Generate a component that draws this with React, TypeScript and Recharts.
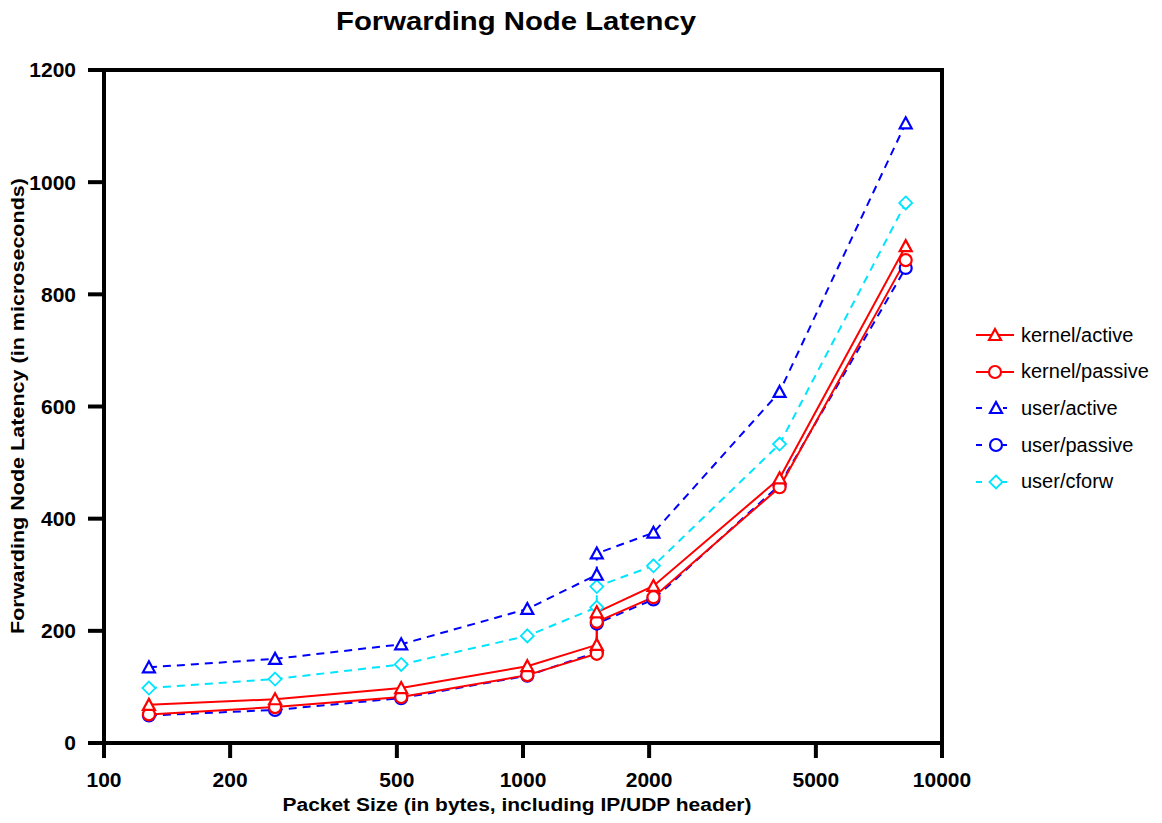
import { LineChart, Line, XAxis, YAxis, Legend, ReferenceArea, Label } from 'recharts';

const packetSizes = [128, 256, 512, 1024, 1500, 1500, 2048, 4096, 8192];
const kernelActive = [68, 78, 98, 137, 175, 233, 280, 472, 886];
const kernelPassive = [51, 64, 82, 121, 159, 216, 260, 456, 861];
const userActive = [135, 150, 176, 239, 300, 338, 375, 626, 1105];
const userPassive = [49, 59, 80, 120, 162, 213, 256, 460, 847];
const userCforw = [98, 114, 140, 191, 242, 279, 316, 533, 963];

const xTicks = [100, 200, 500, 1000, 2000, 5000, 10000];
const yTicks = [0, 200, 400, 600, 800, 1000, 1200];

const font = '"Liberation Sans", Arial, Helvetica, sans-serif';

type Shape = 'triangle' | 'circle' | 'diamond';

// legend order
const series: { key: string; name: string; color: string; dashed: boolean; shape: Shape }[] = [
  { key: 'kernelActive', name: 'kernel/active', color: '#ff0000', dashed: false, shape: 'triangle' },
  { key: 'kernelPassive', name: 'kernel/passive', color: '#ff0000', dashed: false, shape: 'circle' },
  { key: 'userActive', name: 'user/active', color: '#0000ff', dashed: true, shape: 'triangle' },
  { key: 'userPassive', name: 'user/passive', color: '#0000ff', dashed: true, shape: 'circle' },
  { key: 'userCforw', name: 'user/cforw', color: '#00e5ff', dashed: true, shape: 'diamond' },
];

const data = packetSizes.map((size, i) => ({
  size,
  kernelActive: kernelActive[i],
  kernelPassive: kernelPassive[i],
  userActive: userActive[i],
  userPassive: userPassive[i],
  userCforw: userCforw[i],
}));

function Marker({ cx, cy, shape, color }: { cx: number; cy: number; shape: Shape; color: string }) {
  if (cx == null || cy == null) return null;
  if (shape === 'circle') {
    return <circle cx={cx} cy={cy} r={6} fill="#fff" stroke={color} strokeWidth={2.2} />;
  }
  if (shape === 'diamond') {
    const d = 6.5;
    return (
      <polygon
        points={`${cx},${cy - d} ${cx + d},${cy} ${cx},${cy + d} ${cx - d},${cy}`}
        fill="#fff"
        stroke={color}
        strokeWidth={1.8}
      />
    );
  }
  return (
    <polygon
      points={`${cx},${cy - 6} ${cx + 6},${cy + 5} ${cx - 6},${cy + 5}`}
      fill="#fff"
      stroke={color}
      strokeWidth={2.2}
    />
  );
}

const makeDot = (shape: Shape, color: string) => (props: any) =>
  <Marker key={`d-${props.index}`} cx={props.cx} cy={props.cy} shape={shape} color={color} />;

function LegendBox() {
  return (
    <div style={{ fontFamily: font, fontSize: 20, color: '#000' }}>
      {series.map((s) => (
        <div key={s.key} style={{ display: 'flex', alignItems: 'center', height: 36.6 }}>
          <svg width={40} height={20} style={{ display: 'block' }}>
            {s.dashed ? (
              <>
                <line x1={0} x2={6} y1={10} y2={10} stroke={s.color} strokeWidth={2} />
                <line x1={27} x2={31} y1={10} y2={10} stroke={s.color} strokeWidth={2} />
              </>
            ) : (
              <line x1={0} x2={38} y1={10} y2={10} stroke={s.color} strokeWidth={2} />
            )}
            <Marker cx={s.dashed ? 20 : 19} cy={10} shape={s.shape} color={s.color} />
          </svg>
          <span style={{ marginLeft: 5 }}>{s.name}</span>
        </div>
      ))}
    </div>
  );
}

const drawOrder = ['userCforw', 'userPassive', 'userActive', 'kernelPassive', 'kernelActive'];

export default function App() {
  return (
    <div style={{ position: 'absolute', left: 0, top: 0, width: 1162, height: 823, background: '#fff' }}>
      <svg width={1162} height={50} style={{ position: 'absolute', left: 0, top: 0 }}>
        <text
          x={516}
          y={30}
          textAnchor="middle"
          fontFamily={font}
          fontWeight="bold"
          fontSize={25}
          textLength={360}
          lengthAdjust="spacingAndGlyphs"
        >
          Forwarding Node Latency
        </text>
      </svg>
      <LineChart width={1162} height={823} data={data} margin={{ top: 70, right: 34, left: 0, bottom: 0 }}>
        <ReferenceArea
          x1={100}
          x2={10000}
          y1={0}
          y2={1200}
          fill="none"
          stroke="#000"
          strokeWidth={4}
          ifOverflow="visible"
        />
        <XAxis
          dataKey="size"
          type="number"
          scale="log"
          domain={[100, 10000]}
          ticks={xTicks}
          allowDataOverflow
          height={80}
          tickSize={15}
          tickMargin={14}
          axisLine={{ stroke: '#000', strokeWidth: 4 }}
          tickLine={{ stroke: '#000', strokeWidth: 4 }}
          tick={{ fill: '#000', fontSize: 21, fontWeight: 'bold', fontFamily: font }}
        >
          <Label
            content={() => (
              <text
                x={517}
                y={811}
                textAnchor="middle"
                fontFamily={font}
                fontWeight="bold"
                fontSize={18}
                textLength={469}
                lengthAdjust="spacingAndGlyphs"
              >
                Packet Size (in bytes, including IP/UDP header)
              </text>
            )}
          />
        </XAxis>
        <YAxis
          type="number"
          domain={[0, 1200]}
          ticks={yTicks}
          width={104}
          tickSize={16}
          tickMargin={12}
          axisLine={{ stroke: '#000', strokeWidth: 4 }}
          tickLine={{ stroke: '#000', strokeWidth: 4 }}
          tick={{ fill: '#000', fontSize: 21, fontWeight: 'bold', fontFamily: font }}
        >
          <Label
            content={() => (
              <text
                x={24}
                y={406}
                transform="rotate(-90 24 406)"
                textAnchor="middle"
                fontFamily={font}
                fontWeight="bold"
                fontSize={18}
                textLength={456}
                lengthAdjust="spacingAndGlyphs"
              >
                Forwarding Node Latency (in microseconds)
              </text>
            )}
          />
        </YAxis>
        <Legend
          layout="vertical"
          align="right"
          verticalAlign="top"
          content={() => <LegendBox />}
          wrapperStyle={{ left: 976, top: 317, width: 186 }}
        />
        {drawOrder.map((k) => {
          const s = series.find((x) => x.key === k)!;
          return (
            <Line
              key={s.key}
              dataKey={s.key}
              name={s.name}
              stroke={s.color}
              strokeWidth={2}
              strokeDasharray={s.dashed ? '8 6' : undefined}
              type="linear"
              dot={makeDot(s.shape, s.color)}
              activeDot={false}
              isAnimationActive={false}
            />
          );
        })}
      </LineChart>
    </div>
  );
}
